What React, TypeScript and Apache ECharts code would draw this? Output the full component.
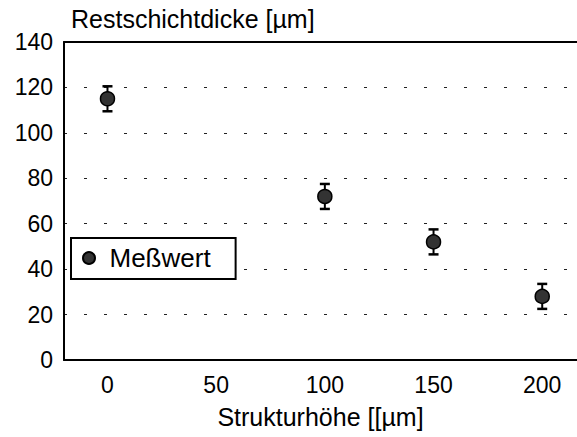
import React, { useEffect, useRef } from "react";
import * as echarts from "echarts";

const seriesName = "Meßwert";
const xValues = [0, 100, 150, 200];
const yValues = [115, 72, 52, 28];
const errLow = [109.5, 66.5, 46.5, 22.5];
const errHigh = [120.5, 77.5, 57.5, 33.5];
const xTickLabels = [0, 50, 100, 150, 200];
const yTitle = "Restschichtdicke [µm]";
const xTitle = "Strukturhöhe [[µm]";

const FONT = "'Liberation Sans', Arial, Helvetica, sans-serif";

export default function App() {
  const ref = useRef<HTMLDivElement>(null);
  useEffect(() => {
    if (!ref.current) return;
    const chart = echarts.init(ref.current, null, { renderer: "svg" });
    const xMin = -20;
    const xMax = 216;
    chart.setOption({
      animation: false,
      backgroundColor: "#ffffff",
      textStyle: { fontFamily: FONT, color: "#000" },
      title: {
        text: yTitle,
        left: 71,
        top: 6,
        padding: 0,
        textStyle: { fontFamily: FONT, fontSize: 25, fontWeight: "normal", color: "#000" },
      },
      legend: {
        data: [seriesName],
        left: 71,
        top: 238,
        orient: "horizontal",
        icon: "circle",
        itemWidth: 31,
        itemHeight: 12,
        padding: [7, 25, 8, 11],
        borderColor: "#000",
        borderWidth: 2,
        backgroundColor: "#fff",
        selectedMode: false,
        textStyle: { fontFamily: FONT, fontSize: 26, color: "#000" },
      },
      grid: { left: 64, top: 42, right: 0, bottom: 77, containLabel: false },
      xAxis: [
        {
          type: "value",
          min: xMin,
          max: xMax,
          position: "bottom",
          name: xTitle,
          nameLocation: "middle",
          nameGap: 44,
          nameTextStyle: { fontFamily: FONT, fontSize: 25, color: "#000" },
          axisLine: { show: true, onZero: false, lineStyle: { color: "#000", width: 2 } },
          axisTick: { show: false },
          splitLine: { show: false },
          axisLabel: {
            customValues: xTickLabels,
            margin: 13,
            fontFamily: FONT,
            fontSize: 23,
            color: "#000",
          },
        },
        {
          type: "value",
          min: xMin,
          max: xMax,
          position: "top",
          axisLine: { show: true, onZero: false, lineStyle: { color: "#000", width: 2 } },
          axisTick: { show: false },
          axisLabel: { show: false },
          splitLine: { show: false },
        },
      ],
      yAxis: {
        type: "value",
        min: 0,
        max: 140,
        interval: 20,
        axisLine: { show: true, onZero: false, lineStyle: { color: "#000", width: 2 } },
        axisTick: { show: false },
        axisLabel: { margin: 11, fontFamily: FONT, fontSize: 23, color: "#000" },
        splitLine: {
          show: true,
          lineStyle: { color: "#222", width: 1.2, type: [3, 17] },
        },
      },
      series: [
        {
          name: "err",
          type: "custom",
          xAxisIndex: 0,
          z: 2,
          data: xValues.map((x, i) => [x, errLow[i], errHigh[i]]),
          encode: { x: 0, y: [1, 2] },
          renderItem: (params: any, api: any) => {
            const x = api.value(0);
            const pLo = api.coord([x, api.value(1)]);
            const pHi = api.coord([x, api.value(2)]);
            const w = 5;
            const st = { stroke: "#000", lineWidth: 2 };
            return {
              type: "group",
              children: [
                { type: "line", shape: { x1: pHi[0], y1: pHi[1], x2: pLo[0], y2: pLo[1] }, style: st },
                { type: "line", shape: { x1: pHi[0] - w, y1: pHi[1], x2: pHi[0] + w, y2: pHi[1] }, style: { stroke: "#000", lineWidth: 2.5 } },
                { type: "line", shape: { x1: pLo[0] - w, y1: pLo[1], x2: pLo[0] + w, y2: pLo[1] }, style: { stroke: "#000", lineWidth: 2.5 } },
              ],
            };
          },
        },
        {
          name: seriesName,
          type: "scatter",
          xAxisIndex: 0,
          z: 3,
          symbol: "circle",
          symbolSize: 14,
          itemStyle: { color: "#333", borderColor: "#000", borderWidth: 1.5, opacity: 1 },
          data: xValues.map((x, i) => [x, yValues[i]]),
        },
      ],
    });
    return () => chart.dispose();
  }, []);
  return (
    <div
      ref={ref}
      style={{ position: "fixed", left: 0, top: 0, width: 577, height: 437, background: "#fff" }}
    />
  );
}
